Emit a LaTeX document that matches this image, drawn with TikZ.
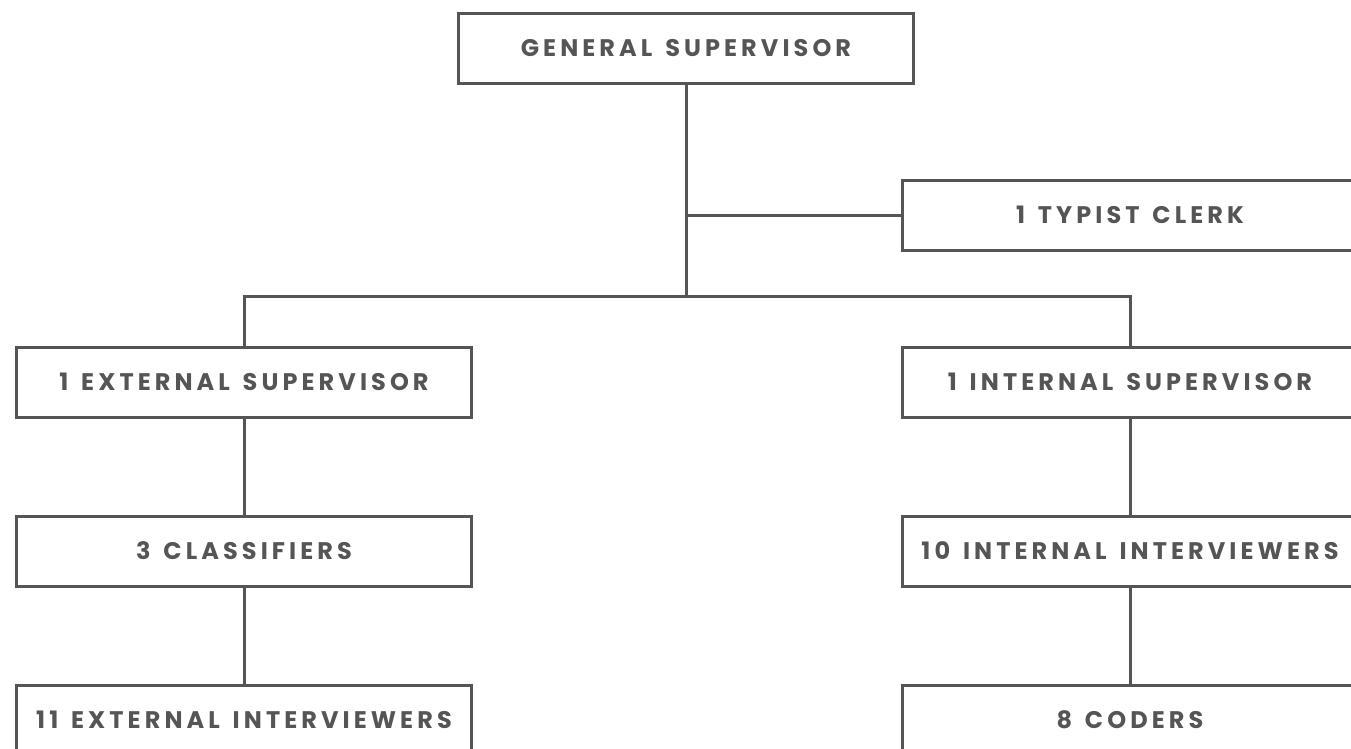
\documentclass[tikz,border=0pt]{standalone}
\usepackage{fontspec}
\usepackage{xcolor}
\usepackage{tikz}
\usetikzlibrary{positioning}
\newfontfamily\postfont{Poppins}[LetterSpace=17,WordSpace=1.4]
\definecolor{ink}{HTML}{555555}
\definecolor{paper}{HTML}{FFFFFF}

\begin{document}
\begin{tikzpicture}[
    x=1pt, y=-1pt,
    post/.style={rectangle, draw=ink, line width=3pt, fill=paper, text=ink,
                 minimum width=455pt, minimum height=70pt, inner sep=0pt,
                 font=\postfont\bfseries\fontsize{24}{28}\selectfont},
    link/.style={draw=ink, line width=3pt},
]
\useasboundingbox (0,0) rectangle (1351,748);
\clip (0,0) rectangle (1351,748);

\node[post] (gen) at (686,48) {GENERAL SUPERVISOR};
\node[post] (typ) at (1130,215) {1 TYPIST CLERK};
\node[post] (ext) at (244,382) {1 EXTERNAL SUPERVISOR};
\node[post] (int) at (1130,382) {1 INTERNAL SUPERVISOR};
\node[post,below=96pt of ext] (cls) {3 CLASSIFIERS};
\node[post,below=96pt of cls] (exi) {11 EXTERNAL INTERVIEWERS};
\node[post,below=96pt of int] (ini) {10 INTERNAL INTERVIEWERS};
\node[post,below=96pt of ini] (cod) {8 CODERS};

\coordinate (split) at (686,296);
\draw[link] (gen.south) -- (split);
\draw[link] (gen.south |- typ.west) -- (typ.west);
\draw[link] (ext.north) |- (split) -| (int.north);
\draw[link] (ext) -- (cls);
\draw[link] (cls) -- (exi);
\draw[link] (int) -- (ini);
\draw[link] (ini) -- (cod);
\end{tikzpicture}
\end{document}
